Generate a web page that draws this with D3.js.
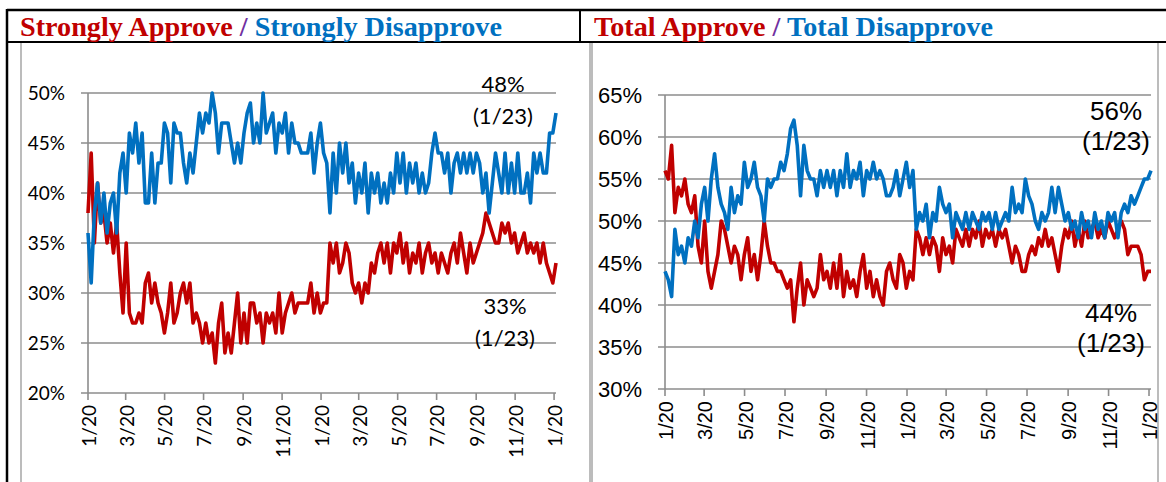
<!DOCTYPE html>
<html>
<head>
<meta charset="utf-8">
<script src="https://cdn.jsdelivr.net/npm/d3@7"></script>
<style>
body { margin: 0; background: #fff; }
</style>
</head>
<body>
<div id="chart"></div>
<script>
// daily tracking, 1/20/21 -> 1/23/23, one value read roughly every 5 days
var startDate = "2021-01-20";
var endDate = "2023-01-23";
var tickDates = ["2021-01-20", "2021-03-20", "2021-05-20", "2021-07-20", "2021-09-20", "2021-11-20",
                 "2022-01-20", "2022-03-20", "2022-05-20", "2022-07-20", "2022-09-20", "2022-11-20", "2023-01-20"];
var tickLabels = ["1/20", "3/20", "5/20", "7/20", "9/20", "11/20",
                  "1/20", "3/20", "5/20", "7/20", "9/20", "11/20", "1/20"];

var strongApprove = [
  38,44,35,41,37,38,35,37,34,37, 32,28,35,28,27,27,28,27,31,32,
  29,31,29,28,26,28,31,27,28,30, 31,29,31,27,28,27,25,27,25,26,
  23,27,29,24,26,24,27,30,25,28, 25,29,29,27,28,25,28,27,28,26,
  30,26,28,29,30,28,29,29,29,29, 31,28,30,28,29,29,35,33,35,32,
  33,35,34,31,30,31,29,31,30,33, 32,34,35,33,35,32,35,34,36,33,
  35,32,34,33,35,32,34,35,33,34, 32,34,33,32,34,35,33,36,34,32,
  35,33,34,35,36,38,37,36,35,35, 37,36,37,35,36,34,35,36,34,35,
  34,35,33,35,33,32,31,33];
var strongDisapprove = [
  36,31,38,41,37,40,36,39,40,36, 42,44,40,46,44,47,43,46,39,39,
  44,39,43,43,47,46,41,47,46,46, 43,41,44,42,45,48,46,48,47,50,
  48,44,47,47,47,45,43,45,43,46, 48,49,45,47,45,50,46,47,48,44,
  47,46,48,44,47,45,45,44,44,44, 46,42,45,47,44,43,38,44,40,45,
  42,45,41,43,39,42,40,43,38,42, 40,42,39,41,39,42,40,44,41,44,
  40,43,41,43,40,42,40,41,44,46, 44,44,42,44,40,43,44,42,44,42,
  44,42,44,43,40,42,38,41,44,42, 40,44,40,43,40,44,40,40,42,39,
  44,42,44,42,42,46,46,48];
var totalApprove = [
  56,55,59,51,54,53,55,52,51,53, 47,45,50,44,42,44,46,50,49,47,
  45,47,46,43,46,48,44,46,43,46, 50,47,45,45,44,44,43,42,43,38,
  42,45,40,43,42,41,42,46,43,44, 42,45,42,46,41,44,42,43,41,44,
  46,42,44,41,43,41,40,44,45,43, 42,46,45,42,44,43,49,48,46,48,
  46,48,47,44,48,46,47,45,49,48, 47,49,47,49,48,50,47,49,48,49,
  47,49,48,49,47,45,47,46,44,44, 46,47,46,48,47,49,47,48,46,44,
  47,49,48,50,47,49,47,50,48,49, 50,48,49,48,50,49,48,49,50,49,
  46,47,47,47,46,43,44,44];
var totalDisapprove = [
  44,43,41,49,46,47,45,48,47,50, 48,52,54,50,55,58,54,52,51,49,
  54,51,53,52,57,54,55,57,54,53, 50,55,54,55,55,57,56,58,61,62,
  59,53,59,56,55,55,53,56,54,56, 54,56,53,56,54,58,54,56,55,57,
  53,56,55,57,55,56,55,53,53,54, 56,53,55,57,54,56,49,51,50,52,
  48,51,50,54,52,51,52,48,51,50, 49,51,49,51,50,49,51,50,51,49,
  51,49,50,51,50,54,51,52,51,55, 53,52,50,49,51,50,51,54,51,54,
  52,50,51,49,50,48,51,49,50,48, 51,49,50,48,51,50,51,48,51,52,
  51,53,52,53,54,55,55,56];

var leftTicks = [20, 25, 30, 35, 40, 45, 50];
var rightTicks = [30, 35, 40, 45, 50, 55, 60, 65];

var red = "#c00000", blue = "#0070c0", purple = "#7030a0";
var parse = d3.utcParse("%Y-%m-%d");
var t0 = parse(startDate), t1 = parse(endDate);

function datesFor(values) {
  var step = (t1 - t0) / (values.length - 1);
  return values.map(function(v, i) { return new Date(+t0 + i * step); });
}

var svg = d3.select("#chart").append("svg")
    .attr("width", 1166)
    .attr("height", 482);

// frame
svg.append("rect").attr("x", 21).attr("y", 42).attr("width", 569).attr("height", 460)
    .attr("fill", "none").attr("stroke", "#a6a6a6").attr("stroke-width", 1.5);
svg.append("rect").attr("x", 592).attr("y", 42).attr("width", 566).attr("height", 460)
    .attr("fill", "none").attr("stroke", "#a6a6a6").attr("stroke-width", 1.5);
svg.append("line").attr("x1", 7).attr("x2", 1166).attr("y1", 10).attr("y2", 10)
    .attr("stroke", "#000").attr("stroke-width", 2.5);
svg.append("line").attr("x1", 7).attr("x2", 1166).attr("y1", 42).attr("y2", 42)
    .attr("stroke", "#000").attr("stroke-width", 2);
svg.append("line").attr("x1", 7).attr("x2", 7).attr("y1", 9).attr("y2", 482)
    .attr("stroke", "#000").attr("stroke-width", 2.5);
svg.append("line").attr("x1", 580).attr("x2", 580).attr("y1", 10).attr("y2", 42)
    .attr("stroke", "#000").attr("stroke-width", 2);

function title(x, a, b) {
  var t = svg.append("text")
      .attr("x", x).attr("y", 36)
      .style("font-family", "'Liberation Serif', 'Times New Roman', serif")
      .style("font-weight", "bold")
      .style("font-size", "28.2px");
  t.append("tspan").attr("fill", red).text(a);
  t.append("tspan").attr("fill", purple).text(" / ");
  t.append("tspan").attr("fill", blue).text(b);
}
title(20, "Strongly Approve", "Strongly Disapprove");
title(594, "Total Approve", "Total Disapprove");

function drawPanel(p) {
  var x = d3.scaleUtc().domain([t0, t1]).range([p.left, p.right]);
  var y = d3.scaleLinear().domain(p.yDomain).range([p.bottom, p.top]);
  var g = svg.append("g").style("font-family", p.font);

  g.selectAll(".grid").data(p.yTicks).enter()
    .append("line")
    .attr("x1", p.left - 7).attr("x2", p.right)
    .attr("y1", function(d) { return y(d); })
    .attr("y2", function(d) { return y(d); })
    .attr("stroke", "#8c8c8c").attr("stroke-width", 1.6);
  g.append("line")
    .attr("x1", p.left).attr("x2", p.left)
    .attr("y1", p.top).attr("y2", p.bottom)
    .attr("stroke", "#8c8c8c").attr("stroke-width", 1.6);

  g.selectAll(".ylab").data(p.yTicks).enter()
    .append("text")
    .attr("x", p.left - 23)
    .attr("y", function(d) { return y(d); })
    .attr("dy", "0.36em")
    .attr("text-anchor", "end")
    .style("font-size", p.ySize)
    .text(function(d) { return d + "%"; });

  var ticks = tickDates.map(parse);
  g.selectAll(".xtick").data(ticks).enter()
    .append("line")
    .attr("x1", function(d) { return x(d); })
    .attr("x2", function(d) { return x(d); })
    .attr("y1", p.bottom).attr("y2", p.bottom + 7)
    .attr("stroke", "#8c8c8c").attr("stroke-width", 1.6);
  g.selectAll(".xlab").data(ticks).enter()
    .append("text")
    .attr("transform", function(d) { return "translate(" + (x(d) + 1) + "," + (p.bottom + 12) + ") rotate(-90)"; })
    .attr("dy", "0.36em")
    .attr("text-anchor", "end")
    .style("font-size", p.xSize)
    .text(function(d, i) { return tickLabels[i]; });

  p.series.forEach(function(s) {
    var dates = datesFor(s.values);
    var line = d3.line()
        .x(function(d, i) { return x(dates[i]); })
        .y(function(d) { return y(d); });
    g.append("path")
      .attr("d", line(s.values))
      .attr("fill", "none")
      .attr("stroke", s.color)
      .attr("stroke-width", 3.6)
      .attr("stroke-linejoin", "round");
  });

  p.notes.forEach(function(n) {
    var last = n.values[n.values.length - 1];
    g.append("text").attr("x", n.x).attr("y", n.y).attr("text-anchor", "middle")
      .style("font-size", p.noteSize).text(last + "%");
    g.append("text").attr("x", n.x).attr("y", n.y + n.gap).attr("text-anchor", "middle")
      .style("font-size", p.noteSize).text("(" + d3.utcFormat("%-m/%-d")(t1) + ")");
  });
}

drawPanel({
  left: 88, right: 556, top: 93, bottom: 393,
  yDomain: [20, 50], yTicks: leftTicks,
  font: "Lato, 'Open Sans', sans-serif", ySize: "19px", xSize: "19px", noteSize: "22px",
  series: [{values: strongApprove, color: red}, {values: strongDisapprove, color: blue}],
  notes: [{values: strongDisapprove, x: 503, y: 92, gap: 32},
          {values: strongApprove, x: 505, y: 314, gap: 32}]
});

drawPanel({
  left: 665, right: 1151, top: 95, bottom: 389,
  yDomain: [30, 65], yTicks: rightTicks,
  font: "'Liberation Sans', Arial, sans-serif", ySize: "22px", xSize: "20px", noteSize: "26px",
  series: [{values: totalApprove, color: red}, {values: totalDisapprove, color: blue}],
  notes: [{values: totalDisapprove, x: 1116, y: 120, gap: 30},
          {values: totalApprove, x: 1111, y: 322, gap: 30}]
});
</script>
</body>
</html>
